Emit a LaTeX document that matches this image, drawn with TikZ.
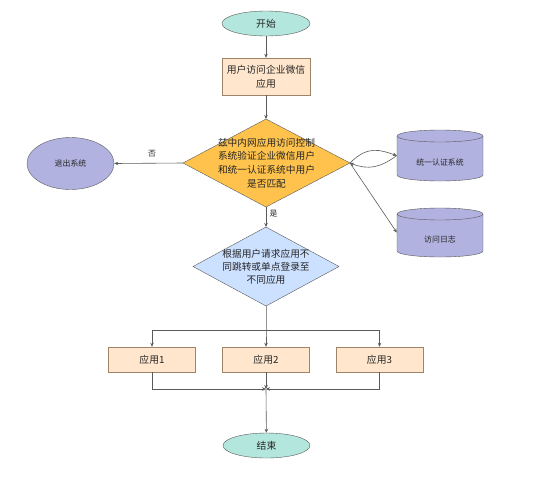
\documentclass[tikz,border=0pt]{standalone}
\usepackage{fontspec}
\newfontfamily\cjk{Noto Sans CJK SC}
\usetikzlibrary{shapes.geometric,arrows.meta}
\definecolor{tealfill}{HTML}{B3E6DC}
\definecolor{boxfill}{HTML}{FFE6CC}
\definecolor{boxdraw}{HTML}{9C8466}
\definecolor{goldfill}{HTML}{FFC34D}
\definecolor{bluefill}{HTML}{CCE0FF}
\definecolor{lavfill}{HTML}{B2B2E0}
\definecolor{linec}{HTML}{5A5A5A}
\tikzset{
  every node/.style={font=\cjk\fontsize{9.8}{13}\selectfont, text=black!85},
  small/.style={font=\cjk\fontsize{7.9}{9}\selectfont},
  terminal/.style={ellipse, draw=linec, fill=tealfill, minimum width=88pt, minimum height=25pt, inner sep=0pt},
  procbox/.style={rectangle, draw=boxdraw, fill=boxfill, minimum width=88pt, minimum height=37pt, inner sep=0pt, align=center},
  appbox/.style={rectangle, draw=boxdraw, fill=boxfill, minimum width=87pt, minimum height=25pt, inner sep=0pt},
  conn/.style={draw=linec, line width=0.6pt, -{Stealth[length=4pt,width=3.5pt]}},
  cyl/.style={draw=linec, fill=lavfill},
}
\begin{document}
\begin{tikzpicture}[x=1pt,y=-1pt]
\useasboundingbox (0,0) rectangle (554,480);
% nodes
\node[terminal] (start) at (266,23.5) {开始};
\node[procbox, font=\cjk\fontsize{9.8}{14}\selectfont] (visit) at (266,76.5) {用户访问企业微信\\应用};
\draw[draw=linec, fill=goldfill] (266,119) -- (350,163) -- (266,207) -- (183,163) -- cycle;
\node[inner sep=0pt, minimum width=167pt, minimum height=88pt, align=center,
      font=\cjk\fontsize{9.7}{13.6}\selectfont] (d1) at (266.5,163)
      {兹中内网应用访问控制\\系统验证企业微信用户\\和统一认证系统中用户\\是否匹配};
\coordinate (d1w) at (183,163);
\coordinate (d1e) at (350,163);
\coordinate (d1n) at (266,119);
\coordinate (d1s) at (266,207);
\node[ellipse, draw=linec, fill=lavfill, minimum width=87pt, minimum height=52pt, inner sep=0pt, small] (exit) at (70.5,163.5) {退出系统};
% cylinders
\draw[cyl] (397,136) -- (397,175) arc[start angle=180,end angle=0,x radius=43,y radius=6] -- (483,136) arc[start angle=0,end angle=-180,x radius=43,y radius=6] -- cycle;
\draw[draw=linec] (397,136) arc[start angle=180,end angle=0,x radius=43,y radius=6];
\node[inner sep=0pt, minimum width=86pt, minimum height=51pt] (auth) at (440,155.5) {};
\node[small] at (440,162) {统一认证系统};
\draw[cyl] (397,214) -- (397,251) arc[start angle=180,end angle=0,x radius=43,y radius=6] -- (483,214) arc[start angle=0,end angle=-180,x radius=43,y radius=6] -- cycle;
\draw[draw=linec] (397,214) arc[start angle=180,end angle=0,x radius=43,y radius=6];
\node[inner sep=0pt, minimum width=86pt, minimum height=49pt] (log) at (440,232.5) {};
\node[small] at (440,240) {访问日志};
% diamond 2
\draw[draw=linec, fill=bluefill] (266,227) -- (339,266.5) -- (266,306) -- (193,266.5) -- cycle;
\node[inner sep=0pt, align=center, font=\cjk\fontsize{9.7}{13}\selectfont] (d2) at (266,266.5)
      {根据用户请求应用不\\同跳转或单点登录至\\不同应用};
\coordinate (d2n) at (266,227);
\coordinate (d2s) at (266,306);
% apps
\node[appbox] (app1) at (152,359.5) {应用1};
\node[appbox] (app2) at (266,359.5) {应用2};
\node[appbox] (app3) at (379.5,359.5) {应用3};
\node[terminal, minimum width=87pt] (end) at (266.5,445.5) {结束};
\coordinate (split) at (266,330);
\coordinate (join) at (266,389);
% connectors
\draw[conn] (start) -- (visit);
\draw[conn] (visit) -- (d1n);
\draw[conn] (d1w) -- node[above, pos=0.45, yshift=2pt, small] {否} (exit.east);
\draw[conn] (d1e) .. controls (368,145) and (380,150) .. (auth.west);
\draw[conn] (auth.west) .. controls (380,168) and (368,170) .. (d1e);
\draw[conn] (d1e) -- (log.west);
\draw[conn] (d1s) -- node[right, pos=0.35, small] {是} (d2n);
\draw[conn] (d2s) -- (split) -- (app2);
\draw[conn] (split) -| (app1);
\draw[conn] (split) -| (app3);
\draw[conn] (app1) |- (join);
\draw[conn] (app3) |- (join);
\draw[conn] (app2) -- (join);
\draw[conn] (join) -- (end);
\end{tikzpicture}
\end{document}
